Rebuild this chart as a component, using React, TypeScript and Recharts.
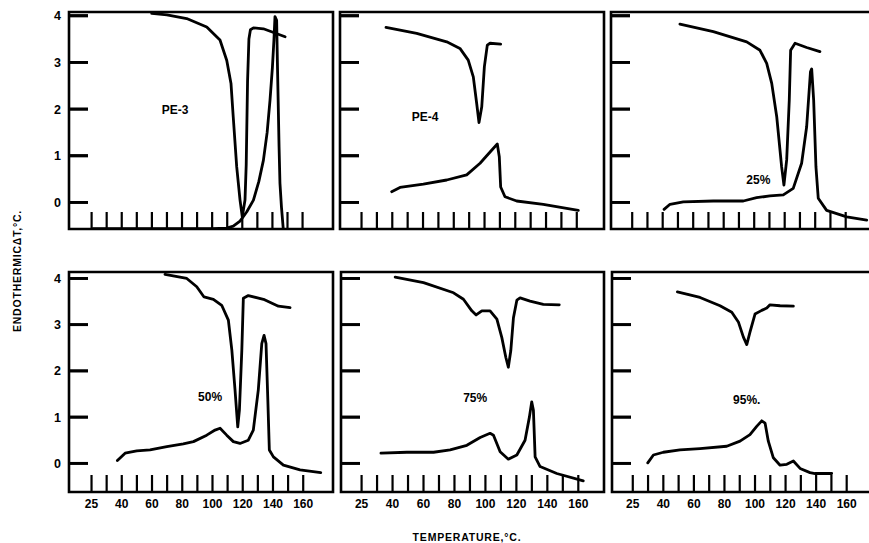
import React from 'react';
import { LineChart, Line, XAxis, YAxis, ReferenceArea, ReferenceDot, ReferenceLine } from 'recharts';

// ---------- data (temperature °C, endothermic ΔT °C) ----------
const pe3Upper: [number, number][] = [
  [59.9, 4.05], [70, 4.02], [83.1, 3.94], [96.4, 3.76], [105.2, 3.48], [109.7, 3.04], [112.5, 2.55],
  [114, 1.83], [116.3, 0.76], [118.5, 0.05], [120, -0.31], [121.8, 0.05], [122.6, 0.8], [123.5, 2.6],
  [124.4, 3.5], [125.4, 3.7], [127.4, 3.74], [134, 3.72], [148.4, 3.55],
];
const pe3Lower: [number, number][] = [
  [21, -0.56], [60, -0.56], [100, -0.56], [109.7, -0.55], [114, -0.51], [118.5, -0.4], [123, -0.2],
  [127.4, 0.05], [131, 0.45], [134, 0.9], [136.5, 1.5], [138.4, 2.19], [140, 2.9], [141, 3.48],
  [141.7, 3.98], [142.8, 3.9], [143.3, 3.0], [143.8, 2.19], [144.4, 1.2], [145, 0.41], [146, -0.1], [147.2, -0.57],
];
const pe4Upper: [number, number][] = [
  [35.9, 3.75], [55.9, 3.62], [75.4, 3.44], [84, 3.3], [89.4, 3.05], [92.7, 2.69], [94.9, 2.12],
  [96.4, 1.71], [98.2, 2.05], [99.9, 2.91], [101.8, 3.37], [103.6, 3.41], [110.5, 3.39],
];
const pe4Lower: [number, number][] = [
  [39.6, 0.23], [45, 0.32], [60.2, 0.39], [75.4, 0.48], [88.4, 0.59], [97.1, 0.84], [103.6, 1.08],
  [108.3, 1.25], [109.6, 0.98], [110.5, 0.33], [113.3, 0.12], [120.9, 0.03], [138.2, -0.04], [161, -0.17],
];
const p25Upper: [number, number][] = [
  [51.3, 3.82], [73.2, 3.66], [95.1, 3.44], [103.8, 3.26], [108.2, 2.98], [111.5, 2.55], [114.8, 1.83],
  [118, 0.76], [119.5, 0.37], [121.3, 0.91], [123, 2.19], [123.9, 3.26], [126.8, 3.41], [134.4, 3.32], [143.1, 3.23],
];
const p25Lower: [number, number][] = [
  [40.9, -0.15], [44.8, -0.04], [53.5, 0.01], [73.2, 0.03], [92.9, 0.03], [101.6, 0.1], [110.3, 0.14],
  [119.1, 0.16], [125.6, 0.3], [131.1, 0.84], [134.4, 1.62], [136.9, 2.8], [137.7, 2.86], [139, 2.19],
  [140.5, 0.76], [142, 0.09], [147.5, -0.17], [160.7, -0.31], [173.8, -0.38],
];
const p50Upper: [number, number][] = [
  [68.6, 4.09], [83, 4.0], [89.6, 3.82], [94.4, 3.6], [100.6, 3.55], [106.1, 3.42], [110.5, 3.1],
  [112.8, 2.45], [114.9, 1.59], [116.7, 0.79], [117.8, 1.15], [119.4, 2.45], [120.4, 3.57], [123.7, 3.63],
  [133.7, 3.55], [143.6, 3.4], [151.3, 3.37],
];
const p50Lower: [number, number][] = [
  [37.1, 0.06], [42.2, 0.22], [49.9, 0.27], [58.7, 0.29], [69.8, 0.36], [80.7, 0.42], [87.4, 0.47],
  [96.2, 0.61], [101.7, 0.72], [105, 0.76], [109.4, 0.61], [113.8, 0.47], [118.2, 0.43], [123.7, 0.5],
  [127, 0.72], [130.3, 1.59], [132.6, 2.59], [134.1, 2.77], [135.4, 2.59], [136.6, 1.37], [137.6, 0.29],
  [140.3, 0.14], [146.9, -0.04], [157.9, -0.14], [171.6, -0.2],
];
const p75Upper: [number, number][] = [
  [41.7, 4.03], [60, 3.91], [79.4, 3.69], [85.8, 3.55], [91.2, 3.3], [94, 3.21], [97.7, 3.3], [103, 3.3],
  [107.4, 3.12], [110.6, 2.72], [113.2, 2.29], [114.8, 2.08], [116.4, 2.44], [118.1, 3.15], [120.3, 3.53],
  [122.4, 3.58], [128.8, 3.51], [137.4, 3.44], [147.7, 3.43],
];
const p75Lower: [number, number][] = [
  [32.5, 0.22], [49.3, 0.24], [66.5, 0.24], [77.2, 0.29], [88, 0.39], [96.6, 0.56], [103, 0.65],
  [105.2, 0.61], [109.5, 0.25], [114.8, 0.09], [120.3, 0.18], [125.6, 0.5], [128.4, 1.0], [129.9, 1.33],
  [131, 1.15], [132.1, 0.14], [135.3, -0.07], [146.1, -0.22], [163.2, -0.38],
];
const p95Upper: [number, number][] = [
  [49.2, 3.71], [64, 3.59], [77.1, 3.41], [84.8, 3.27], [89.1, 3.06], [92.4, 2.73], [94.6, 2.57],
  [96.7, 2.84], [100, 3.23], [104.4, 3.31], [107.7, 3.36], [109.8, 3.43], [116.4, 3.41], [125.1, 3.4],
];
const p95Lower: [number, number][] = [
  [29.8, 0.01], [33.5, 0.18], [40, 0.24], [50.9, 0.29], [64, 0.32], [81.5, 0.37], [90.2, 0.48],
  [96.7, 0.62], [101.1, 0.8], [104.4, 0.92], [106.6, 0.87], [108.7, 0.48], [112, 0.12], [116.4, -0.04],
  [120.8, -0.02], [125.1, 0.05], [129.5, -0.11], [136, -0.2], [139.3, -0.22], [150.2, -0.22],
];

const xTickValues = [20, 30, 40, 50, 60, 70, 80, 90, 100, 110, 120, 130, 140, 150, 160];
const xTickLabels: Record<number, string> = { 20: '25', 40: '40', 60: '60', 80: '80', 100: '100', 120: '120', 140: '140', 160: '160' };
const yTickValues = [0, 1, 2, 3, 4];
const yTickLabels = ['0', '1', '2', '3', '4'];

const panelNames = ['PE-3', 'PE-4', '25%', '50%', '75%', '95%.'];

const toPts = (a: [number, number][]) => a.map(([t, v]) => ({ t, v }));

const FONT = '"Liberation Sans", Arial, Helvetica, sans-serif';

type PanelCfg = {
  box: [number, number, number, number]; // left, top, right, bottom (px)
  xDomain: [number, number];
  yDomain: [number, number];
  upper: [number, number][];
  lower: [number, number][];
  name: string;
  nameAt: [number, number];
  yLabels: boolean;
  xLabels: boolean;
};

const panels: PanelCfg[] = [
  { box: [69, 12, 333, 229], xDomain: [5, 180.2], yDomain: [-0.57, 4.08], upper: pe3Upper, lower: pe3Lower, name: panelNames[0], nameAt: [75.4, 1.98], yLabels: true, xLabels: false },
  { box: [340, 12, 604, 229], xDomain: [6, 177.7], yDomain: [-0.57, 4.08], upper: pe4Upper, lower: pe4Lower, name: panelNames[1], nameAt: [61.3, 1.84], yLabels: false, xLabels: false },
  { box: [611, 12, 880, 229], xDomain: [6.1, 182.5], yDomain: [-0.57, 4.08], upper: p25Upper, lower: p25Lower, name: panelNames[2], nameAt: [102.7, 0.48], yLabels: false, xLabels: false },
  { box: [69, 272, 333, 492], xDomain: [5.1, 179.7], yDomain: [-0.62, 4.14], upper: p50Upper, lower: p50Lower, name: panelNames[3], nameAt: [98.4, 1.44], yLabels: true, xLabels: true },
  { box: [341, 272, 604, 492], xDomain: [6.7, 176.6], yDomain: [-0.62, 4.14], upper: p75Upper, lower: p75Lower, name: panelNames[4], nameAt: [93.4, 1.41], yLabels: false, xLabels: true },
  { box: [612, 272, 880, 492], xDomain: [6.4, 181.8], yDomain: [-0.62, 4.14], upper: p95Upper, lower: p95Lower, name: panelNames[5], nameAt: [94.6, 1.37], yLabels: false, xLabels: true },
];

const XTick = (props: any) => {
  const { x, y, payload, showLabel } = props;
  const lab = xTickLabels[payload.value];
  return (
    <g>
      <line x1={x} x2={x} y1={y} y2={y - 17} stroke="#000" strokeWidth={2.2} />
      {showLabel && lab ? (
        <text x={x} y={y + 16} textAnchor="middle" fontFamily={FONT} fontWeight={700} fontSize={12} fill="#000">
          {lab}
        </text>
      ) : null}
    </g>
  );
};

const PAD_L = 40;
const PAD_T = 6;
const PAD_R = 6;
const PAD_B = 26;
const Y_STUB_PX = 19;

// y-axis tick stubs pointing into the plot, built from the tick values (null breaks between stubs)
const yStubPoints = (x0: number, len: number) =>
  yTickValues.flatMap((v) => [
    { t: x0, v },
    { t: x0 + len, v },
    { t: x0 + len, v: null as number | null },
  ]);

const Panel = ({ cfg }: { cfg: PanelCfg }) => {
  const [l, t, r, b] = cfg.box;
  const w = r - l + PAD_L + PAD_R;
  const h = b - t + PAD_T + PAD_B;
  const x0 = cfg.xDomain[0];
  const stub = (Y_STUB_PX * (cfg.xDomain[1] - cfg.xDomain[0])) / (r - l);
  return (
    <div style={{ position: 'absolute', left: l - PAD_L, top: t - PAD_T, width: w, height: h }}>
      <LineChart width={w} height={h} margin={{ top: PAD_T, right: PAD_R, bottom: 0, left: 0 }}>
        <XAxis
          type="number"
          dataKey="t"
          domain={cfg.xDomain}
          allowDataOverflow
          ticks={xTickValues}
          interval={0}
          height={PAD_B}
          axisLine={false}
          tickLine={false}
          tickSize={0}
          tickMargin={0}
          tick={<XTick showLabel={cfg.xLabels} />}
        />
        <YAxis
          type="number"
          domain={cfg.yDomain}
          allowDataOverflow
          ticks={yTickValues}
          interval={0}
          width={PAD_L}
          axisLine={false}
          tickLine={false}
          tickSize={0}
          tickMargin={8}
          tickFormatter={(v: number) => (cfg.yLabels ? yTickLabels[yTickValues.indexOf(v)] : '')}
          tick={{ fill: '#000', fontSize: 12.5, fontWeight: 700, fontFamily: FONT }}
        />
        <ReferenceArea
          x1={cfg.xDomain[0]}
          x2={cfg.xDomain[1]}
          y1={cfg.yDomain[0]}
          y2={cfg.yDomain[1]}
          fill="none"
          stroke="#000"
          strokeWidth={2.6}
          ifOverflow="visible"
        />
        {yTickValues.map((v) => (
          <ReferenceLine
            key={v}
            segment={[{ x: x0, y: v }, { x: x0 + stub, y: v }]}
            stroke="#000"
            strokeWidth={2.8}
            ifOverflow="visible"
          />
        ))}
        <Line
          data={yStubPoints(x0, stub)}
          dataKey="v"
          type="linear"
          stroke="#000"
          strokeWidth={2.8}
          dot={false}
          isAnimationActive={false}
        />
        <Line data={toPts(cfg.upper)} dataKey="v" type="linear" stroke="#000" strokeWidth={2.8} dot={false} isAnimationActive={false} strokeLinejoin="round" strokeLinecap="round" />
        <Line data={toPts(cfg.lower)} dataKey="v" type="linear" stroke="#000" strokeWidth={2.8} dot={false} isAnimationActive={false} strokeLinejoin="round" strokeLinecap="round" />
        <ReferenceDot
          x={cfg.nameAt[0]}
          y={cfg.nameAt[1]}
          r={0}
          fill="none"
          stroke="none"
          ifOverflow="visible"
          label={{ value: cfg.name, position: 'center', fill: '#000', fontSize: 12, fontWeight: 700, fontFamily: FONT }}
        />
      </LineChart>
    </div>
  );
};

export default function App() {
  return (
    <div style={{ position: 'absolute', left: 0, top: 0, width: 869, height: 543, overflow: 'hidden', background: '#fff' }}>
      {panels.map((p, i) => (
        <Panel key={i} cfg={p} />
      ))}
      <svg width={869} height={543} style={{ position: 'absolute', left: 0, top: 0, pointerEvents: 'none' }}>
        <text
          x={17}
          y={271}
          transform="rotate(-90 17 271)"
          textAnchor="middle"
          dominantBaseline="central"
          fontFamily={FONT}
          fontWeight={700}
          fontSize={10.5}
          letterSpacing={0.8}
          fill="#000"
        >
          ENDOTHERMICΔT,°C.
        </text>
        <text x={467} y={541} textAnchor="middle" fontFamily={FONT} fontWeight={700} fontSize={10.5} letterSpacing={0.8} fill="#000">
          TEMPERATURE,°C.
        </text>
      </svg>
    </div>
  );
}
